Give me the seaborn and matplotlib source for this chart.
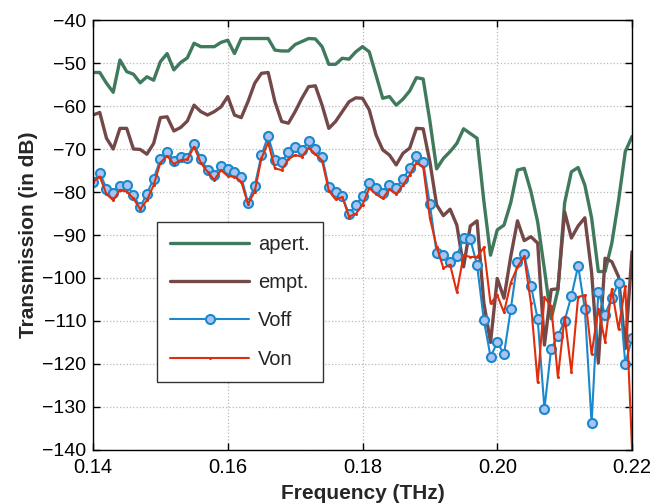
import numpy as np
import pandas as pd
import matplotlib
matplotlib.use("Agg")
import matplotlib.pyplot as plt
import seaborn as sns

# ---- data -------------------------------------------------------------
freq_start = 0.140
freq_step = 0.001
n_points = 81
freq = [round(freq_start + k * freq_step, 3) for k in range(n_points)]

apert = [-52.2, -52.2, -54.7, -56.8, -49.3, -52.0, -52.6, -54.6, -53.2, -54.0,
         -49.7, -47.8, -51.6, -49.9, -48.8, -45.4, -46.2, -46.2, -46.2, -45.2,
         -44.7, -47.8, -44.3, -44.3, -44.3, -44.3, -44.3, -47.0, -47.2, -47.2,
         -45.7, -45.0, -44.3, -44.4, -46.2, -50.3, -50.3, -48.9, -49.1, -47.4,
         -46.2, -47.4, -52.8, -58.2, -57.8, -59.8, -58.4, -56.5, -53.4, -53.7,
         -63.5, -74.6, -72.2, -70.6, -68.7, -65.3, -66.4, -67.5, -82.0, -94.7,
         -88.8, -87.7, -82.5, -74.9, -74.5, -79.9, -87.0, -98.0, -109.5, -102.8,
         -82.5, -75.3, -74.3, -78.4, -86.0, -98.5, -98.5, -91.9, -82.0, -70.6,
         -67.1]

empt = [-62.1, -61.5, -67.5, -70.0, -65.2, -65.2, -70.0, -70.1, -71.2, -68.7,
        -62.7, -62.5, -65.8, -65.0, -63.5, -59.8, -61.3, -62.1, -61.3, -60.2,
        -57.8, -62.1, -62.7, -59.0, -54.7, -52.4, -52.2, -59.0, -63.6, -64.0,
        -61.3, -58.2, -55.5, -55.3, -59.8, -65.2, -63.6, -61.3, -59.0, -58.1,
        -58.2, -60.9, -66.7, -70.2, -71.4, -73.7, -71.0, -69.8, -65.2, -65.3,
        -73.0, -83.0, -85.5, -84.0, -87.7, -97.4, -87.9, -86.7, -105.7, -115.0,
        -100.1, -104.7, -95.0, -86.7, -91.3, -90.4, -91.9, -115.6, -102.7, -102.5,
        -84.6, -90.7, -87.9, -86.0, -98.7, -119.8, -95.4, -96.2, -99.7, -116.4,
        -93.9]

voff = [-77.7, -75.5, -79.2, -80.3, -78.6, -78.4, -80.7, -83.5, -80.4, -76.9,
        -72.4, -70.7, -72.7, -71.8, -72.0, -68.8, -72.3, -74.9, -76.0, -74.0,
        -74.6, -75.3, -76.4, -82.5, -78.6, -71.4, -67.0, -72.5, -73.1, -70.6,
        -69.5, -70.2, -68.2, -70.0, -71.8, -78.9, -80.0, -81.0, -85.2, -83.0,
        -81.0, -78.0, -79.0, -80.2, -78.4, -79.1, -76.9, -74.5, -71.6, -73.0,
        -82.9, -94.2, -94.7, -96.2, -94.9, -90.6, -91.0, -97.0, -109.7, -118.3,
        -115.0, -117.7, -107.3, -96.2, -94.5, -101.8, -109.6, -130.4, -116.4, -113.5,
        -109.9, -104.2, -97.2, -107.3, -133.8, -103.2, -108.5, -104.6, -101.2, -119.9,
        -114.0]

von = [-77.7, -76.4, -80.5, -81.9, -79.5, -79.9, -81.5, -84.0, -81.9, -78.4,
       -73.2, -71.6, -73.5, -72.6, -72.4, -69.5, -73.2, -75.3, -77.2, -74.9,
       -76.3, -76.4, -77.6, -82.8, -79.9, -72.2, -68.5, -74.5, -74.9, -72.4,
       -71.4, -71.8, -69.7, -71.2, -72.7, -79.7, -81.7, -81.2, -85.7, -85.1,
       -83.0, -79.1, -80.5, -81.5, -79.4, -80.5, -78.4, -76.0, -73.2, -74.1,
       -86.1, -92.7, -97.7, -96.9, -103.3, -94.7, -95.1, -95.1, -92.9, -105.9,
       -104.0, -108.0, -101.1, -97.4, -95.0, -105.9, -124.3, -104.5, -106.5, -123.1,
       -109.0, -121.8, -104.4, -104.0, -117.7, -107.1, -114.8, -102.6, -111.9, -101.9,
       -139.8]

series_names = ["apert.", "empt.", "Voff", "Von"]
xtick_vals = [0.14, 0.16, 0.18, 0.20, 0.22]
xtick_labels = ["0.14", "0.16", "0.18", "0.20", "0.22"]
ytick_vals = list(range(-140, -39, 10))

# ---- style ------------------------------------------------------------
sns.set_style("white")
plt.rcParams["font.family"] = ["Liberation Sans", "DejaVu Sans"]

fig = plt.figure(figsize=(6.54, 5.03), dpi=100)
ax = fig.add_axes([0.1422, 0.1054, 0.8242, 0.8548])

df = pd.DataFrame({"freq": freq, "apert.": apert, "empt.": empt,
                   "Voff": voff, "Von": von})

sns.lineplot(data=df, x="freq", y="apert.", ax=ax, color="#3f7a5c",
             linewidth=2.4, label="apert.", sort=False, estimator=None)
sns.lineplot(data=df, x="freq", y="empt.", ax=ax, color="#744848",
             linewidth=2.4, label="empt.", sort=False, estimator=None)
sns.lineplot(data=df, x="freq", y="Voff", ax=ax, color="#1a88cc",
             linewidth=1.5, marker="o", markersize=6.5,
             markerfacecolor="#a9c3f2", markeredgecolor="#1a88cc",
             markeredgewidth=1.5, label="Voff", sort=False, estimator=None)
sns.lineplot(data=df, x="freq", y="Von", ax=ax, color="#e02d0c",
             linewidth=1.5, marker="o", markersize=2.2,
             markeredgewidth=0, label="Von", sort=False, estimator=None)

ax.set_xlim(0.14, 0.22)
ax.set_ylim(-140, -40)
ax.set_xticks(xtick_vals)
ax.set_xticklabels(xtick_labels)
ax.set_yticks(ytick_vals)

ax.grid(True, linestyle=":", color="#b8b8b8", linewidth=0.9)
for sp in ax.spines.values():
    sp.set_visible(True)
    sp.set_color("black")
    sp.set_linewidth(1.0)

ax.tick_params(axis="both", which="both", direction="in", length=5,
               width=1.0, colors="black",
               top=True, right=True, bottom=True, left=True)
ax.tick_params(axis="x", pad=6, labelsize=14.5)
ax.tick_params(axis="y", pad=5, labelsize=14)

ax.set_xlabel("Frequency (THz)", fontsize=15, fontweight="bold", labelpad=5)
ax.set_ylabel("Transmission (in dB)", fontsize=15, fontweight="bold", labelpad=3)

leg = ax.legend(loc="upper left", bbox_to_anchor=(0.119, 0.530),
                fontsize=14.5, frameon=True, fancybox=False, framealpha=1,
                edgecolor="#333333", handlelength=3.9, handletextpad=0.45,
                labelspacing=0.95, borderpad=0.65, borderaxespad=0,
                numpoints=1)
leg.get_frame().set_linewidth(1.0)

fig.savefig("out.png", dpi=100)
